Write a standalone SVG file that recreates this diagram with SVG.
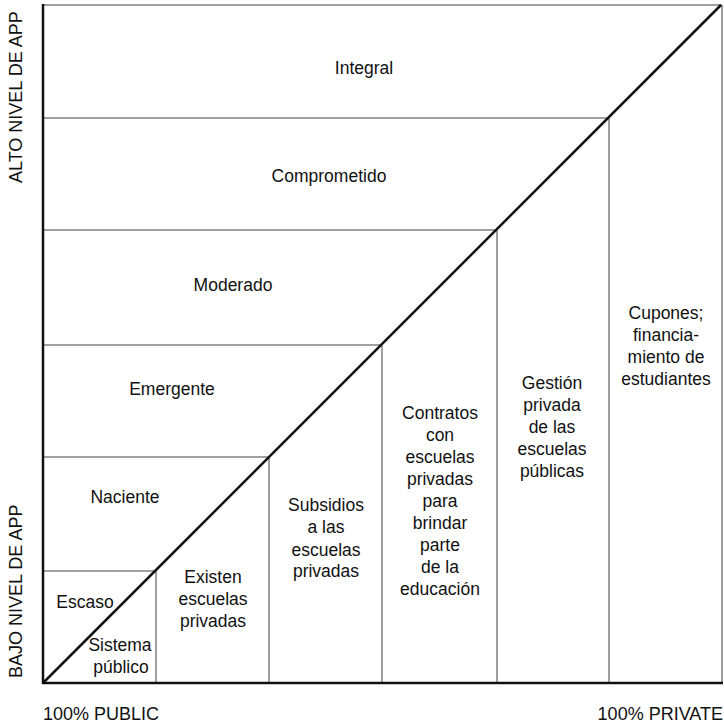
<svg xmlns="http://www.w3.org/2000/svg" width="724" height="724" viewBox="0 0 724 724">
  <style>
    .grid { stroke: #7f7f7f; stroke-width: 1.5; fill: none; }
    .axis { stroke: #111; stroke-width: 2.5; fill: none; }
    .diag { stroke: #111; stroke-width: 2.5; fill: none; }
    text { font-family: "Liberation Sans", Arial, sans-serif; fill: #111; }
    .lbl { font-size: 17.5px; text-anchor: middle; }
    .ax { font-size: 18px; }
  </style>
  <rect width="724" height="724" fill="#fff"/>

  <!-- frame and staircase grid -->
  <g id="grid" class="grid">
    <line x1="43" y1="5" x2="722" y2="5"/>
    <line x1="722" y1="5" x2="722" y2="683"/>
    <line x1="43" y1="118" x2="608" y2="118"/>
    <line x1="43" y1="230" x2="496" y2="230"/>
    <line x1="43" y1="345" x2="381" y2="345"/>
    <line x1="43" y1="457" x2="269" y2="457"/>
    <line x1="43" y1="571" x2="155" y2="571"/>
    <line x1="156" y1="571" x2="156" y2="683"/>
    <line x1="269" y1="457" x2="269" y2="683"/>
    <line x1="382" y1="345" x2="382" y2="683"/>
    <line x1="497" y1="230" x2="497" y2="683"/>
    <line x1="609" y1="118" x2="609" y2="683"/>
  </g>

  <!-- axes and diagonal -->
  <g id="connectors">
    <line class="axis" x1="43" y1="4" x2="43" y2="684"/>
    <line class="axis" x1="42" y1="683" x2="723" y2="683"/>
    <line class="diag" x1="43" y1="683" x2="721" y2="5"/>
  </g>

  <!-- axis labels -->
  <g id="axis-labels" class="ax">
    <text x="0" y="0" transform="translate(22,183) rotate(-90)">ALTO NIVEL DE APP</text>
    <text x="0" y="0" transform="translate(22,678) rotate(-90)">BAJO NIVEL DE APP</text>
    <text x="43" y="720">100% PUBLIC</text>
    <text x="723" y="720" text-anchor="end">100% PRIVATE</text>
  </g>

  <!-- levels (rows above the diagonal) -->
  <g id="integral" class="lbl"><text x="364" y="74">Integral</text></g>
  <g id="comprometido" class="lbl"><text x="329" y="182">Comprometido</text></g>
  <g id="moderado" class="lbl"><text x="233" y="291">Moderado</text></g>
  <g id="emergente" class="lbl"><text x="172" y="395">Emergente</text></g>
  <g id="naciente" class="lbl"><text x="125" y="503">Naciente</text></g>
  <g id="escaso" class="lbl"><text x="85" y="608">Escaso</text></g>

  <!-- models (columns below the diagonal) -->
  <g id="sistema-publico" class="lbl">
    <text x="120" y="651">Sistema</text>
    <text x="121" y="673">público</text>
  </g>
  <g id="existen" class="lbl">
    <text x="213" y="583">Existen</text>
    <text x="213" y="605">escuelas</text>
    <text x="213" y="627">privadas</text>
  </g>
  <g id="subsidios" class="lbl">
    <text x="326" y="511">Subsidios</text>
    <text x="326" y="533">a las</text>
    <text x="326" y="556">escuelas</text>
    <text x="326" y="577">privadas</text>
  </g>
  <g id="contratos" class="lbl">
    <text x="440" y="419">Contratos</text>
    <text x="440" y="441">con</text>
    <text x="440" y="463">escuelas</text>
    <text x="440" y="485">privadas</text>
    <text x="440" y="507">para</text>
    <text x="440" y="529">brindar</text>
    <text x="440" y="551">parte</text>
    <text x="440" y="573">de la</text>
    <text x="440" y="595">educación</text>
  </g>
  <g id="gestion" class="lbl">
    <text x="552" y="389">Gestión</text>
    <text x="552" y="411">privada</text>
    <text x="552" y="433">de las</text>
    <text x="552" y="455">escuelas</text>
    <text x="552" y="477">públicas</text>
  </g>
  <g id="cupones" class="lbl">
    <text x="666" y="319">Cupones;</text>
    <text x="666" y="341">financia-</text>
    <text x="666" y="363">miento de</text>
    <text x="666" y="385">estudiantes</text>
  </g>
</svg>
